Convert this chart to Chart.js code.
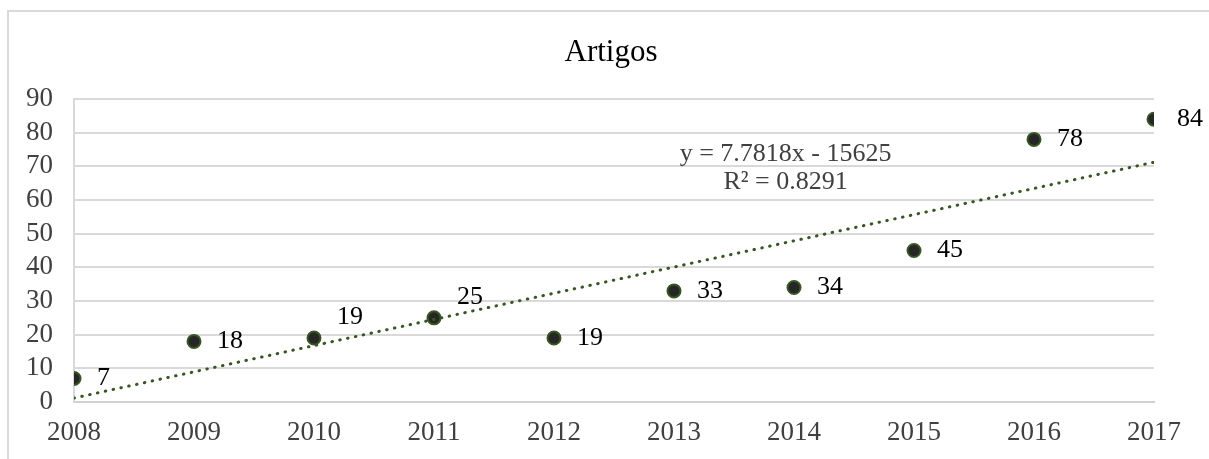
<!DOCTYPE html>
<html>
<head>
<meta charset="utf-8">
<script src="https://cdn.jsdelivr.net/npm/chart.js@4/dist/chart.umd.min.js"></script>
<style>
  html, body { margin: 0; padding: 0; background: #fff; }
  #wrap { width: 1209px; height: 459px; position: relative; }
</style>
</head>
<body>
<div id="wrap"><canvas id="artigosCanvas"></canvas></div>
<script>
const years = [2008, 2009, 2010, 2011, 2012, 2013, 2014, 2015, 2016, 2017];
const artigos = [7, 18, 19, 25, 19, 33, 34, 45, 78, 84];
const yTicks = [0, 10, 20, 30, 40, 50, 60, 70, 80, 90];

// least squares trend line, same as Excel's linear trendline
const n = years.length;
const meanX = years.reduce((a, b) => a + b, 0) / n;
const meanY = artigos.reduce((a, b) => a + b, 0) / n;
let sxy = 0, sxx = 0, syy = 0;
years.forEach((x, i) => {
    sxy += (x - meanX) * (artigos[i] - meanY);
    sxx += (x - meanX) * (x - meanX);
    syy += (artigos[i] - meanY) * (artigos[i] - meanY);
});
const slope = sxy / sxx;
const intercept = meanY - slope * meanX;
const r2 = (sxy * sxy) / (sxx * syy);
const trend = x => slope * x + intercept;

const serif = "'Liberation Serif', 'Times New Roman', serif";

const framePlugin = {
    id: 'frame',
    beforeDraw(chart) {
        const ctx = chart.ctx;
        ctx.save();
        ctx.strokeStyle = '#d9d9d9';
        ctx.lineWidth = 2;
        ctx.strokeRect(8, 11, 1400, 700);
        ctx.fillStyle = '#000';
        ctx.font = '31px ' + serif;
        ctx.textAlign = 'center';
        ctx.textBaseline = 'middle';
        ctx.fillText('Artigos', 611, 53);
        ctx.restore();
    }
};

const labelPlugin = {
    id: 'pointLabels',
    afterDatasetsDraw(chart) {
        const ctx = chart.ctx;
        const meta = chart.getDatasetMeta(1);
        ctx.save();
        ctx.font = '26px ' + serif;
        ctx.fillStyle = '#000';
        ctx.textAlign = 'left';
        ctx.textBaseline = 'middle';
        meta.data.forEach((pt, i) => {
            const v = artigos[i];
            // push the label up when it would sit on the trend line
            const up = Math.abs(v - trend(years[i])) < 4 ? -21 : 0;
            ctx.fillText(String(v), pt.x + 23, pt.y + up);
        });
        // trendline equation
        const xs = chart.scales.x, ys = chart.scales.y;
        const ex = xs.getPixelForValue(2013.93);
        const ey = ys.getPixelForValue(73.5);
        ctx.fillStyle = '#404040';
        ctx.textAlign = 'center';
        ctx.fillText('y = ' + slope.toFixed(4) + 'x - ' + Math.round(-intercept), ex, ey);
        ctx.fillText('R² = ' + r2.toFixed(4), ex, ey + 28);
        ctx.restore();
    }
};

new Chart(document.getElementById('artigosCanvas'), {
    type: 'scatter',
    data: {
        datasets: [{
            type: 'line',
            data: [{x: years[0], y: trend(years[0])}, {x: years[n - 1], y: trend(years[n - 1])}],
            borderColor: '#375623',
            borderWidth: 3,
            borderDash: [0.5, 7.5],
            borderCapStyle: 'round',
            pointRadius: 0,
            fill: false,
            order: 0
        }, {
            data: years.map((x, i) => ({x: x, y: artigos[i]})),
            backgroundColor: '#262626',
            borderColor: '#375623',
            borderWidth: 2,
            pointRadius: 6.5,
            order: 1
        }]
    },
    options: {
        responsive: true,
        maintainAspectRatio: false,
        animation: false,
        layout: { padding: { top: 99, right: 55, left: 0, bottom: 0 } },
        plugins: {
            legend: { display: false },
            tooltip: { enabled: false }
        },
        scales: {
            x: {
                type: 'linear',
                min: years[0],
                max: years[n - 1],
                afterFit(scale) { scale.height = 57; },
                grid: { display: false, drawTicks: false },
                border: { display: true, color: '#d0d0d0', width: 2 },
                ticks: {
                    stepSize: 1,
                    autoSkip: false,
                    maxRotation: 0,
                    padding: 15,
                    color: '#404040',
                    font: { family: serif, size: 27 },
                    callback: v => String(v)
                }
            },
            y: {
                min: yTicks[0],
                max: yTicks[yTicks.length - 1],
                afterFit(scale) { scale.width = 74; },
                afterBuildTicks(scale) { scale.ticks = yTicks.map(v => ({value: v})); },
                grid: { color: '#d9d9d9', lineWidth: 2, drawTicks: false },
                border: { display: true, color: '#d9d9d9', width: 2 },
                ticks: {
                    autoSkip: false,
                    padding: 21,
                    color: '#404040',
                    font: { family: serif, size: 27 }
                }
            }
        }
    },
    plugins: [framePlugin, labelPlugin]
});
</script>
</body>
</html>
